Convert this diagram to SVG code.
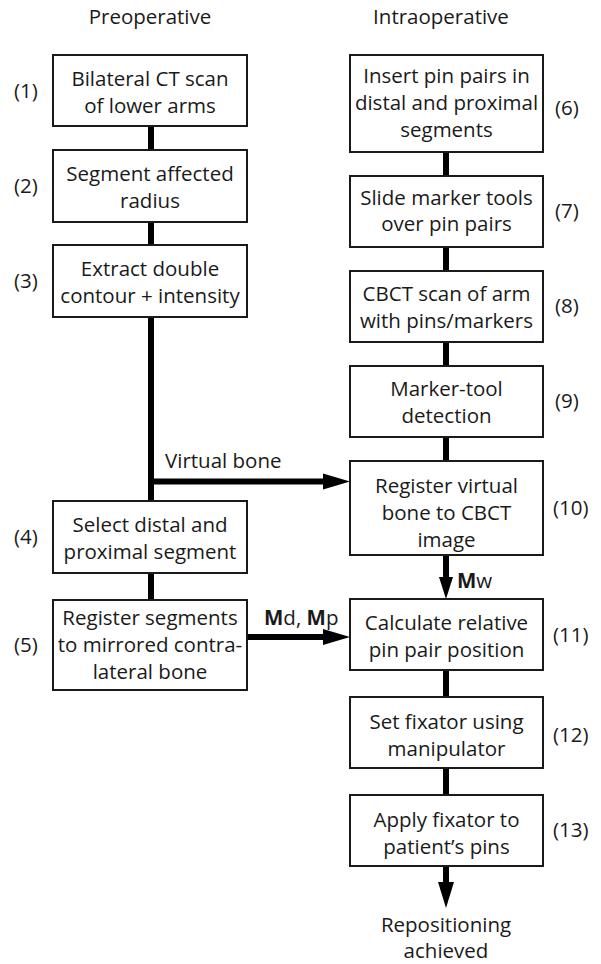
<svg xmlns="http://www.w3.org/2000/svg" width="601" height="964" viewBox="0 0 601 964">
  <style>
    text { font-family: "Open Sans", "Liberation Sans", sans-serif; font-size: 20.5px; fill: #1a1a1a; }
    .c { text-anchor: middle; }
    .box { fill: #ffffff; stroke: #1a1a1a; stroke-width: 2; }
    .wire { stroke: #000000; stroke-width: 6; fill: none; }
    .head { fill: #000000; }
    .b { font-weight: bold; }
  </style>
  <rect width="601" height="964" fill="#ffffff"/>

  <!-- column titles -->
  <text class="c" x="150" y="24">Preoperative</text>
  <text class="c" x="441" y="24">Intraoperative</text>

  <!-- connectors -->
  <g id="connectors">
    <!-- preoperative chain -->
    <line class="wire" x1="151" y1="126" x2="151" y2="150"/>
    <line class="wire" x1="151" y1="222" x2="151" y2="245"/>
    <line class="wire" x1="151" y1="317" x2="151" y2="501"/>
    <line class="wire" x1="151" y1="573" x2="151" y2="600"/>
    <!-- virtual bone branch -->
    <line class="wire" x1="151" y1="481.5" x2="326" y2="481.5"/>
    <polygon class="head" points="323,473.5 350,481.5 323,489.5"/>
    <text x="165" y="468">Virtual bone</text>
    <!-- Md, Mp -->
    <line class="wire" x1="247" y1="637" x2="326" y2="637"/>
    <polygon class="head" points="323,629 350,637 323,645"/>
    <text x="264" y="625"><tspan class="b">M</tspan>d, <tspan class="b">M</tspan>p</text>
    <!-- intraoperative chain -->
    <line class="wire" x1="446" y1="152" x2="446" y2="176"/>
    <line class="wire" x1="446" y1="247" x2="446" y2="271"/>
    <line class="wire" x1="446" y1="342" x2="446" y2="366"/>
    <line class="wire" x1="446" y1="437" x2="446" y2="461"/>
    <line class="wire" x1="446" y1="555" x2="446" y2="580"/>
    <polygon class="head" points="439,577 453,577 446,599"/>
    <text x="457" y="588"><tspan class="b">M</tspan>w</text>
    <line class="wire" x1="446" y1="670" x2="446" y2="697"/>
    <line class="wire" x1="446" y1="768" x2="446" y2="795"/>
    <line class="wire" x1="446" y1="866" x2="446" y2="885"/>
    <polygon class="head" points="438,882 454,882 446,908"/>
  </g>

  <!-- preoperative steps -->
  <g id="step1">
    <rect class="box" x="53" y="55" width="194" height="71"/>
    <text class="c" x="150" y="86">Bilateral CT scan</text>
    <text class="c" x="150" y="113">of lower arms</text>
    <text x="14" y="98">(1)</text>
  </g>
  <g id="step2">
    <rect class="box" x="53" y="150" width="194" height="72"/>
    <text class="c" x="150" y="181">Segment affected</text>
    <text class="c" x="150" y="208">radius</text>
    <text x="14" y="193">(2)</text>
  </g>
  <g id="step3">
    <rect class="box" x="53" y="245" width="194" height="72"/>
    <text class="c" x="150" y="276">Extract double</text>
    <text class="c" x="150" y="303">contour + intensity</text>
    <text x="14" y="288">(3)</text>
  </g>
  <g id="step4">
    <rect class="box" x="53" y="501" width="194" height="72"/>
    <text class="c" x="150" y="532">Select distal and</text>
    <text class="c" x="150" y="559">proximal segment</text>
    <text x="14" y="544">(4)</text>
  </g>
  <g id="step5">
    <rect class="box" x="53" y="600" width="194" height="90"/>
    <text class="c" x="150" y="625">Register segments</text>
    <text class="c" x="150" y="652">to mirrored contra-</text>
    <text class="c" x="150" y="679">lateral bone</text>
    <text x="14" y="652">(5)</text>
  </g>

  <!-- intraoperative steps -->
  <g id="step6">
    <rect class="box" x="350" y="55" width="193" height="97"/>
    <text class="c" x="446.5" y="83">Insert pin pairs in</text>
    <text class="c" x="446.5" y="110">distal and proximal</text>
    <text class="c" x="446.5" y="137">segments</text>
    <text x="555" y="115">(6)</text>
  </g>
  <g id="step7">
    <rect class="box" x="350" y="176" width="193" height="71"/>
    <text class="c" x="446.5" y="205">Slide marker tools</text>
    <text class="c" x="446.5" y="231">over pin pairs</text>
    <text x="555" y="218">(7)</text>
  </g>
  <g id="step8">
    <rect class="box" x="350" y="271" width="193" height="71"/>
    <text class="c" x="446.5" y="301">CBCT scan of arm</text>
    <text class="c" x="446.5" y="328">with pins/markers</text>
    <text x="555" y="313">(8)</text>
  </g>
  <g id="step9">
    <rect class="box" x="350" y="366" width="193" height="71"/>
    <text class="c" x="446.5" y="396">Marker-tool</text>
    <text class="c" x="446.5" y="423">detection</text>
    <text x="555" y="408">(9)</text>
  </g>
  <g id="step10">
    <rect class="box" x="350" y="461" width="193" height="94"/>
    <text class="c" x="446.5" y="493">Register virtual</text>
    <text class="c" x="446.5" y="520">bone to CBCT</text>
    <text class="c" x="446.5" y="547">image</text>
    <text x="553" y="515">(10)</text>
  </g>
  <g id="step11">
    <rect class="box" x="350" y="599" width="193" height="71"/>
    <text class="c" x="446.5" y="630">Calculate relative</text>
    <text class="c" x="446.5" y="657">pin pair position</text>
    <text x="553" y="642">(11)</text>
  </g>
  <g id="step12">
    <rect class="box" x="350" y="697" width="193" height="71"/>
    <text class="c" x="446.5" y="729">Set fixator using</text>
    <text class="c" x="446.5" y="756">manipulator</text>
    <text x="553" y="742">(12)</text>
  </g>
  <g id="step13">
    <rect class="box" x="350" y="795" width="193" height="71"/>
    <text class="c" x="446.5" y="827">Apply fixator to</text>
    <text class="c" x="446.5" y="854">patient’s pins</text>
    <text x="553" y="837">(13)</text>
  </g>
  <g id="result">
    <text class="c" x="446" y="932">Repositioning</text>
    <text class="c" x="446" y="958">achieved</text>
  </g>
</svg>
